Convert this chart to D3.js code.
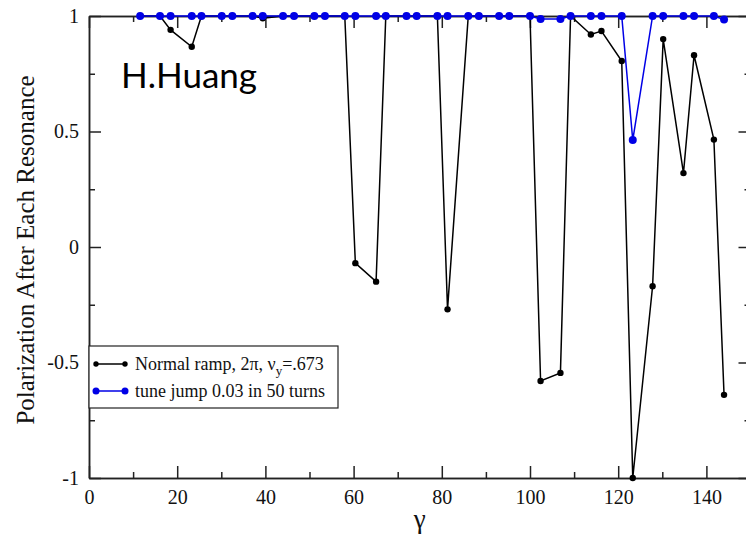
<!DOCTYPE html>
<html>
<head>
<meta charset="utf-8">
<script src="https://cdn.jsdelivr.net/npm/d3@7"></script>
<style>
   body { margin: 0; background: #fff; }
   svg { display: block; }
   .axis path, .axis line { stroke: #222; stroke-width: 1.5; }
</style>
</head>
<body>
<div id="chart"></div>
<script>

// gamma positions of the resonances (same for both runs)
const gamma = [11.6, 16.1, 18.5, 23.3, 25.5, 30.1, 32.5, 37.1, 39.4, 44.0, 46.5, 51.1, 53.5,
   58.0, 60.4, 65.1, 67.3, 72.0, 74.3, 79.0, 81.3, 86.0, 88.4, 93.0, 95.3, 100.0, 102.4,
   106.9, 109.2, 113.8, 116.2, 120.8, 123.3, 127.8, 130.2, 134.8, 137.2, 141.7, 144.0]

// Normal ramp, 2pi, nu_y=.673
const normalRamp = [1, 1, 0.94, 0.867, 1, 1, 1, 1, 0.99, 1, 1, 1, 1,
   1, -0.07, -0.15, 1, 1, 1, 1, -0.27, 1, 1, 1, 1, 1, -0.58,
   -0.545, 1, 0.92, 0.935, 0.805, -1, -0.17, 0.90, 0.32, 0.83, 0.465, -0.64]

// tune jump 0.03 in 50 turns
const tuneJump = [1, 1, 1, 1, 1, 1, 1, 1, 1, 1, 1, 1, 1,
   1, 1, 1, 1, 1, 1, 1, 1, 1, 1, 1, 1, 1, 0.987,
   0.987, 1, 1, 1, 1, 0.463, 1, 1, 1, 1, 1, 0.985]

const xMajorTicks = [0, 20, 40, 60, 80, 100, 120, 140]
const xMinorTicks = [10, 30, 50, 70, 90, 110, 130, 150]
const yMajorTicks = [-1, -0.5, 0, 0.5, 1]
const yMinorTicks = [-0.75, -0.25, 0.25, 0.75]

const legendLabels = ["Normal ramp, 2\u03C0, \u03BD", "tune jump 0.03 in 50 turns"]

let margin = { top: 16, left: 89 }
let width = 661.5
let height = 462
let blue = "#0000e6"
let serif = "font-family: 'Liberation Serif', 'Times New Roman', serif"

let svg = d3.select("#chart").append("svg")
   .attr("width", 746)
   .attr("height", 542)

let g = svg.append("g")
   .attr("transform", "translate(" + margin.left + "," + margin.top + ")")

var x = d3.scaleLinear().domain([0, 150]).range([0, width])
var y = d3.scaleLinear().domain([-1, 1]).range([height, 0])

let fmt = function (d) { return String(d) }

function styleLabels(sel) {
   sel.attr("font-family", null).attr("font-size", null)
   sel.selectAll("g.tick text")
      .attr("style", serif + "; font-size: 20px")
      .attr("fill", "#111")
}

// bottom axis, ticks pointing inward
let bottomAxis = g.append("g")
   .attr("class", "x axis")
   .attr("transform", "translate(0," + height + ")")
   .call(d3.axisBottom(x).tickValues(xMajorTicks).tickSize(-12).tickSizeOuter(0).tickFormat(fmt))
   .call(styleLabels)

bottomAxis.selectAll("g.tick text").attr("y", 12).attr("dy", "0.71em")

g.append("g")
   .attr("class", "x axis minor")
   .attr("transform", "translate(0," + height + ")")
   .call(d3.axisBottom(x).tickValues(xMinorTicks).tickSize(-6).tickSizeOuter(0).tickFormat(""))

// top axis
g.append("g")
   .attr("class", "x axis")
   .call(d3.axisTop(x).tickValues(xMajorTicks).tickSize(-12).tickSizeOuter(0).tickFormat(""))

g.append("g")
   .attr("class", "x axis minor")
   .call(d3.axisTop(x).tickValues(xMinorTicks).tickSize(-6).tickSizeOuter(0).tickFormat(""))

// left axis
let leftAxis = g.append("g")
   .attr("class", "y axis")
   .call(d3.axisLeft(y).tickValues(yMajorTicks).tickSize(-12).tickSizeOuter(0).tickFormat(fmt))
   .call(styleLabels)

leftAxis.selectAll("g.tick text").attr("x", -10)

g.append("g")
   .attr("class", "y axis minor")
   .call(d3.axisLeft(y).tickValues(yMinorTicks).tickSize(-6).tickSizeOuter(0).tickFormat(""))

// right axis
g.append("g")
   .attr("class", "y axis")
   .attr("transform", "translate(" + width + ",0)")
   .call(d3.axisRight(y).tickValues(yMajorTicks).tickSize(-12).tickSizeOuter(0).tickFormat(""))

g.append("g")
   .attr("class", "y axis minor")
   .attr("transform", "translate(" + width + ",0)")
   .call(d3.axisRight(y).tickValues(yMinorTicks).tickSize(-6).tickSizeOuter(0).tickFormat(""))

// axis titles
svg.append("text")
   .attr("transform", "translate(34," + (margin.top + height / 2 + 3) + ") rotate(-90)")
   .attr("text-anchor", "middle")
   .attr("style", serif + "; font-size: 25px")
   .attr("fill", "#111")
   .text("Polarization After Each Resonance")

svg.append("text")
   .attr("x", margin.left + x(75))
   .attr("y", 528)
   .attr("text-anchor", "middle")
   .attr("style", serif + "; font-size: 27px")
   .attr("fill", "#111")
   .text("\u03B3")

// series
let series = [
   { name: "normal", values: normalRamp, color: "#000", r: 3.2 },
   { name: "jump", values: tuneJump, color: blue, r: 4 }
]

let line = d3.line()
   .x(function (d) { return x(d[0]) })
   .y(function (d) { return y(d[1]) })

series.forEach(function (s) {
   let pts = gamma.map(function (gv, i) { return [gv, s.values[i]] })
   let sg = g.append("g").attr("class", "series " + s.name)
   sg.append("path")
      .datum(pts)
      .attr("fill", "none")
      .attr("stroke", s.color)
      .attr("stroke-width", 1.5)
      .attr("d", line)
   sg.selectAll("circle")
      .data(pts)
      .join("circle")
      .attr("cx", function (d) { return x(d[0]) })
      .attr("cy", function (d) { return y(d[1]) })
      .attr("r", s.r)
      .attr("fill", s.color)
})

// legend
let legend = g.append("g")
   .attr("class", "legend")
   .attr("transform", "translate(0,330)")

legend.append("rect")
   .attr("x", 0)
   .attr("y", 0)
   .attr("width", 249)
   .attr("height", 62)
   .attr("fill", "#fff")
   .attr("stroke", "#222")
   .attr("stroke-width", 1.2)

legend.selectAll("g.entry").data(series)
   .join("g")
   .attr("class", "entry")
   .attr("transform", function (d, i) { return "translate(0," + (18 + i * 27) + ")" })
   .each(function (d, i) {
      let e = d3.select(this)
      e.append("line")
         .attr("x1", 7).attr("x2", 36)
         .attr("stroke", d.color).attr("stroke-width", 1.5)
      e.selectAll("circle").data([7, 36]).join("circle")
         .attr("cx", function (c) { return c }).attr("r", d.r - 0.5).attr("fill", d.color)
      let t = e.append("text")
         .attr("x", 46)
         .attr("y", 6)
         .attr("style", serif + "; font-size: 18px")
         .attr("fill", "#111")
         .text(legendLabels[i])
      if (i === 0) {
         t.append("tspan").attr("font-size", 13).attr("dy", 5).text("y")
         t.append("tspan").attr("dy", -5).text("=.673")
      }
   })

// annotation
svg.append("text")
   .attr("x", 121)
   .attr("y", 88)
   .attr("font-family", "Lato, sans-serif")
   .attr("font-size", 35)
   .attr("fill", "#000")
   .text("H.Huang")

</script>
</body>
</html>
